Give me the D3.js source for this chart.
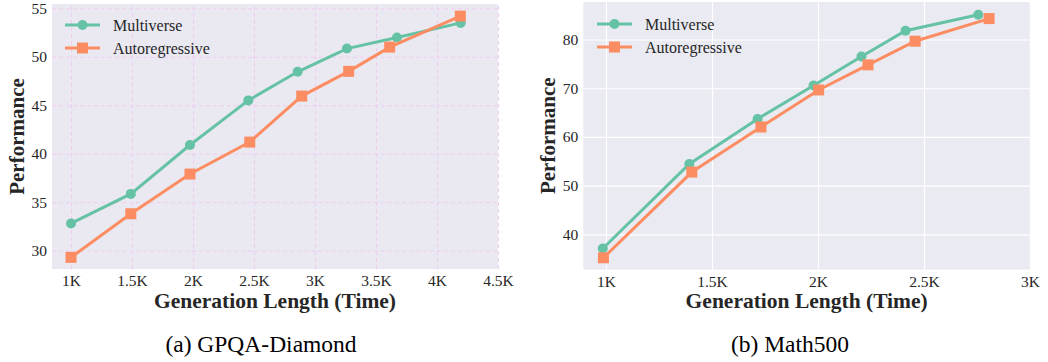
<!DOCTYPE html>
<html><head><meta charset="utf-8">
<script src="https://cdn.jsdelivr.net/npm/d3@7"></script>
<style>body{margin:0;background:#fff}svg{display:block}text{font-family:"Liberation Serif","Times New Roman",serif;fill:#262626}</style>
</head><body>
<script>
// GPQA-Diamond
const gpqaMultiX = [1000, 1490, 1975, 2453, 2858, 3262, 3672, 4194];
const gpqaMultiY = [32.8, 35.85, 40.9, 45.5, 48.45, 50.85, 52.0, 53.5];
const gpqaAutoX = [1000, 1490, 1975, 2465, 2891, 3276, 3612, 4191];
const gpqaAutoY = [29.3, 33.8, 37.9, 41.2, 45.95, 48.5, 51.0, 54.2];
const gpqaXTicks = [1000, 1500, 2000, 2500, 3000, 3500, 4000, 4500];
const gpqaYTicks = [30, 35, 40, 45, 50, 55];
// Math500
const mathMultiX = [985, 1393, 1715, 1979, 2205, 2413, 2756];
const mathMultiY = [37.1, 54.45, 63.7, 70.55, 76.5, 81.8, 85.1];
const mathAutoX = [988, 1405, 1731, 2003, 2236, 2458, 2807];
const mathAutoY = [35.2, 52.8, 62.05, 69.65, 74.8, 79.65, 84.3];
const mathXTicks = [1000, 1500, 2000, 2500, 3000];
const mathYTicks = [40, 50, 60, 70, 80];
const seriesNames = ["Multiverse", "Autoregressive"];
const captions = ["(a) GPQA-Diamond", "(b) Math500"];

const W = 1048, H = 362;
const green = "#66c2a5", orange = "#fc8d62";
const FONT = '"Liberation Serif","Times New Roman",serif';
const svg = d3.select("body").append("svg").attr("width", W).attr("height", H);

function kfmt(v){ return (v/1000) + "K"; }

function panel(o){
  const g = svg.append("g");
  const x = d3.scaleLinear().domain(o.xd).range([o.l, o.r]);
  const y = d3.scaleLinear().domain(o.yd).range([o.b, o.t]);
  g.append("rect").attr("x", o.l).attr("y", o.t).attr("width", o.r-o.l).attr("height", o.b-o.t).attr("fill", o.bg);
  const gx = g.append("g").attr("transform", `translate(0,${o.b})`)
    .call(d3.axisBottom(x).tickValues(o.xt).tickSize(-(o.b-o.t)).tickFormat(kfmt).tickPadding(4));
  const gy = g.append("g").attr("transform", `translate(${o.l},0)`)
    .call(d3.axisLeft(y).tickValues(o.yt).tickSize(-(o.r-o.l)).tickPadding(5));
  [gx, gy].forEach(a => {
    a.attr("font-family", FONT);
    a.select(".domain").remove();
    a.selectAll(".tick line").attr("stroke", o.grid).attr("stroke-width", o.gw).attr("stroke-dasharray", o.dash);
    a.selectAll(".tick text").style("font-size", "15.5px").style("font-family", FONT).attr("fill", "#262626");
  });
  gx.selectAll(".tick text").attr("dy", "0.85em");
  const line = d3.line().x(d => x(d[0])).y(d => y(d[1]));
  const ser = [
    {xs: o.mx, ys: o.my, c: green, m: "circle"},
    {xs: o.ax, ys: o.ay, c: orange, m: "square"}
  ];
  ser.forEach(s => {
    const pts = s.xs.map((v,i) => [v, s.ys[i]]);
    g.append("path").datum(pts).attr("d", line).attr("fill", "none").attr("stroke", s.c).attr("stroke-width", 3);
    if (s.m === "circle") {
      g.selectAll(null).data(pts).enter().append("circle").attr("cx", d => x(d[0])).attr("cy", d => y(d[1])).attr("r", 5).attr("fill", s.c);
    } else {
      g.selectAll(null).data(pts).enter().append("rect").attr("x", d => x(d[0]) - 5.5).attr("y", d => y(d[1]) - 5.5).attr("width", 11).attr("height", 11).attr("fill", s.c);
    }
  });
  const lg = g.append("g");
  [[green, "circle", seriesNames[0], o.ly], [orange, "square", seriesNames[1], o.ly + 23]].forEach(([c, m, t, yy]) => {
    lg.append("line").attr("x1", o.lx).attr("x2", o.lx + 35).attr("y1", yy).attr("y2", yy).attr("stroke", c).attr("stroke-width", 3);
    if (m === "circle") lg.append("circle").attr("cx", o.lx + 17.5).attr("cy", yy).attr("r", 5).attr("fill", c);
    else lg.append("rect").attr("x", o.lx + 12).attr("y", yy - 5.5).attr("width", 11).attr("height", 11).attr("fill", c);
    lg.append("text").attr("x", o.lx + 48).attr("y", yy).attr("dy", "0.35em").style("font-family", FONT).style("font-size", "16px").text(t);
  });
  g.append("text").attr("transform", `translate(${o.ylx},${(o.t+o.b)/2}) rotate(-90)`).attr("text-anchor", "middle").attr("dy", "0.35em")
    .style("font-family", FONT).style("font-size", "21px").style("font-weight", "bold").text("Performance");
  g.append("text").attr("x", (o.l+o.r)/2).attr("y", 300).attr("text-anchor", "middle").attr("dy", "0.35em")
    .style("font-family", FONT).style("font-size", "21.5px").style("font-weight", "bold").text("Generation Length (Time)");
  g.append("text").attr("x", o.cx).attr("y", 344).attr("text-anchor", "middle").attr("dy", "0.35em")
    .style("font-family", FONT).style("font-size", "23.5px").style("fill", "#000").text(o.cap);
}

panel({l: 52, r: 498, t: 4, b: 269, xd: [844, 4500], yd: [28.1, 55.45],
  xt: gpqaXTicks, yt: gpqaYTicks, mx: gpqaMultiX, my: gpqaMultiY, ax: gpqaAutoX, ay: gpqaAutoY,
  bg: "#eae9f2", grid: "#f0cdf0", gw: 1, dash: "4,3", lx: 65, ly: 25, ylx: 17, cx: 261, cap: captions[0]});
panel({l: 583.3, r: 1030, t: 2, b: 269.5, xd: [893, 3000], yd: [32.8, 87.7],
  xt: mathXTicks, yt: mathYTicks, mx: mathMultiX, my: mathMultiY, ax: mathAutoX, ay: mathAutoY,
  bg: "#eaeaf2", grid: "#ffffff", gw: 1.2, dash: null, lx: 597, ly: 24, ylx: 548, cx: 790, cap: captions[1]});
</script>
</body></html>
